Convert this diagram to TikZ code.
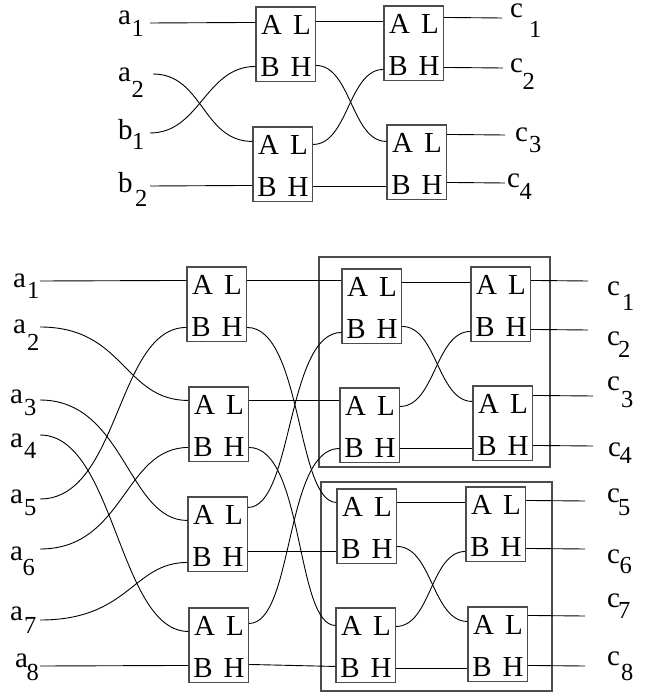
\documentclass[tikz,border=0pt]{standalone}
\usepackage{fontspec}
\setmainfont{Liberation Serif}
% box: name, left x, top y, A off, B off, L off, H off
\newcommand\swbox[7]{%
  \node[swb] (#1) at ({#2+29.75},{#3+37.25}) {};
  \node[txt] (#1t) at ({#2+30},{#3+18}) {A\kern11pt L};
  \node[txt] (#1b) at ({#2+30},{#3+60}) {B\kern11pt H};
  \path (#1.north west) ++(0,#4) coordinate (#1A);
  \path (#1.north west) ++(0,#5) coordinate (#1B);
  \path (#1.north east) ++(0,#6) coordinate (#1L);
  \path (#1.north east) ++(0,#7) coordinate (#1H);
}
% label: name, x, baseline, letter, digit, kern, drop
\newcommand\lab[7]{%
  \node[lbl] (#1) at (#2,#3) {#4\kern#6pt\raisebox{-#7pt}{\fontsize{24.5}{24.5}\selectfont #5}};
}
\newcommand\sw[4]{\draw[wire] (#1) .. controls +(#3,0) and +(-#4,0) .. (#2);}
\begin{document}
\begin{tikzpicture}[x=1pt,y=-1pt,
  swb/.style={draw=black!70,line width=1.1pt,rectangle,minimum width=59.5pt,minimum height=74.5pt,inner sep=0pt},
  bigb/.style={draw=black!70,line width=1.1pt,rectangle,inner sep=0pt},
  txt/.style={inner sep=0pt,font=\fontsize{29}{29}\selectfont},
  lbl/.style={inner sep=0pt,anchor=base west,font=\fontsize{29}{29}\selectfont},
  wire/.style={line width=0.9pt}]
\useasboundingbox (0,0) rectangle (648,692);

% ---------- top diagram ----------
\swbox{T1}{256}{7}{16}{60}{15}{59}
\swbox{T2}{384}{6}{16}{64}{12}{62}
\swbox{T3}{253}{127}{15}{59}{18}{60}
\swbox{T4}{387}{125}{17}{62}{10}{58}

\lab{ta1}{118}{25}{a}{1}{0.5}{12}
\lab{ta2}{118}{82}{a}{2}{0.5}{16}
\lab{tb1}{118}{140}{b}{1}{-0.5}{10}
\lab{tb2}{118}{193}{b}{2}{2.5}{14}
\lab{tc1}{510}{18}{c}{1}{6}{20}
\lab{tc2}{510}{73}{c}{2}{-0.5}{17}
\lab{tc3}{515}{142}{c}{3}{1}{11}
\lab{tc4}{507}{188}{c}{4}{-0.5}{12}

\coordinate (tia1) at (150,23);
\coordinate (tia2) at (153,74);
\coordinate (tib1) at (150,133);
\coordinate (tib2) at (150,186);
\coordinate (toc1) at (502,18);
\coordinate (toc2) at (503,68);
\coordinate (toc3) at (505,135);
\coordinate (toc4) at (505,183);

\draw[wire] (tia1) -- (T1A);
\sw{tia2}{T3A}{50}{50}
\sw{tib1}{T1B}{50}{50}
\draw[wire] (tib2) -- (T3B);
\draw[wire] (T1L) -- (T2A);
\sw{T1H}{T4A}{35}{35}
\sw{T3L}{T2B}{35}{35}
\draw[wire] (T3H) -- (T4B);
\draw[wire] (T2L) -- (toc1);
\draw[wire] (T2H) -- (toc2);
\draw[wire] (T4L) -- (toc3);
\draw[wire] (T4H) -- (toc4);

% ---------- bottom diagram ----------
\node[bigb,minimum width=231pt,minimum height=210pt] (big1) at (434.5,362) {};
\node[bigb,minimum width=231pt,minimum height=209pt] (big2) at (436.5,586.5) {};

\swbox{B1}{187}{267}{14}{61}{14}{61}
\swbox{B2}{189}{387}{14}{61}{14}{61}
\swbox{B3}{188}{497}{24}{66}{11}{55}
\swbox{B4}{189}{608}{24}{58}{16}{57}
\swbox{U1}{342}{269}{12}{64}{14}{58}
\swbox{U2}{340}{388}{13}{61}{19}{61}
\swbox{U3}{471}{267}{16}{65}{14}{63}
\swbox{U4}{473}{386}{16}{63}{10}{60}
\swbox{V1}{337}{489}{14}{63}{14}{58}
\swbox{V2}{336}{608}{18}{59}{19}{61}
\swbox{V3}{466}{487}{16}{65}{14}{62}
\swbox{V4}{468}{607}{15}{62}{9}{59}

\lab{a1}{13}{287}{a}{1}{1}{11}
\lab{a2}{13}{333}{a}{2}{1}{17}
\lab{a3}{10}{403}{a}{3}{1}{12}
\lab{a4}{10}{447}{a}{4}{1}{11}
\lab{a5}{10}{503}{a}{5}{1}{12}
\lab{a6}{10}{560}{a}{6}{-0.5}{15}
\lab{a7}{10}{620}{a}{7}{1}{13}
\lab{a8}{15}{667}{a}{8}{-1.5}{13}
\lab{c1}{607}{295}{c}{1}{2}{15}
\lab{c2}{607}{345}{c}{2}{-2}{12}
\lab{c3}{607}{390}{c}{3}{1}{17}
\lab{c4}{608}{456}{c}{4}{-1.5}{7}
\lab{c5}{607}{502}{c}{5}{-2}{13}
\lab{c6}{607}{563}{c}{6}{-0.5}{10}
\lab{c7}{607}{607}{c}{7}{-2}{11}
\lab{c8}{607}{665}{c}{8}{1}{15}

\coordinate (ia1) at (40,281);
\coordinate (ia2) at (40,327);
\coordinate (ia3) at (40,400);
\coordinate (ia4) at (40,435);
\coordinate (ia5) at (40,499);
\coordinate (ia6) at (40,549);
\coordinate (ia7) at (40,620);
\coordinate (ia8) at (40,666);
\coordinate (oc1) at (588,281);
\coordinate (oc2) at (588,330);
\coordinate (oc3) at (593,396);
\coordinate (oc4) at (593,446);
\coordinate (oc5) at (585,501);
\coordinate (oc6) at (585,549);
\coordinate (oc7) at (585,616);
\coordinate (oc8) at (585,666);

\draw[wire] (ia1) -- (B1A);
\sw{ia2}{B2A}{85}{65}
\sw{ia3}{B3A}{85}{60}
\sw{ia4}{B4A}{75}{70}
\sw{ia5}{B1B}{80}{70}
\sw{ia6}{B2B}{85}{65}
\sw{ia7}{B3B}{90}{55}
\draw[wire] (ia8) -- (B4B);

\draw[wire] (B1L) -- (U1A);
\draw[wire] (B2L) -- (U2A);
\draw[wire] (B3H) -- (V1B);
\draw[wire] (B4H) -- (V2B);
\sw{B1H}{V1A}{55}{40}
\sw{B2H}{V2A}{55}{40}
\sw{B3L}{U1B}{45}{55}
\sw{B4L}{U2B}{45}{55}

\draw[wire] (U1L) -- (U3A);
\draw[wire] (U2H) -- (U4B);
\sw{U1H}{U4A}{35}{35}
\sw{U2L}{U3B}{35}{35}
\draw[wire] (V1L) -- (V3A);
\draw[wire] (V2H) -- (V4B);
\sw{V1H}{V4A}{35}{35}
\sw{V2L}{V3B}{35}{35}

\draw[wire] (U3L) -- (oc1);
\draw[wire] (U3H) -- (oc2);
\draw[wire] (U4L) -- (oc3);
\draw[wire] (U4H) -- (oc4);
\draw[wire] (V3L) -- (oc5);
\draw[wire] (V3H) -- (oc6);
\draw[wire] (V4L) -- (oc7);
\draw[wire] (V4H) -- (oc8);
\end{tikzpicture}
\end{document}
